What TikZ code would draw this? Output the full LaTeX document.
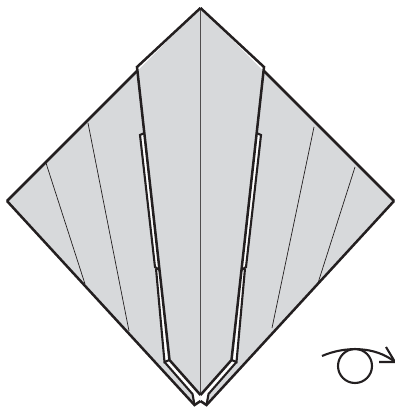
\documentclass[tikz,border=0pt]{standalone}
\usetikzlibrary{calc}
\definecolor{papergrey}{HTML}{D7D9DB}
\definecolor{inkblack}{HTML}{231F20}
\begin{document}
\begin{tikzpicture}[
    x=1pt, y=-1pt,
    edgeline/.style={draw=inkblack, line width=2.5pt, line join=miter},
    layerline/.style={draw=inkblack, line width=2.1pt, line join=miter},
    creaseline/.style={draw=inkblack, line width=0.7pt},
    centerline/.style={draw=inkblack!80, line width=0.9pt},
    gapfill/.style={fill=white, draw=none},
    turnline/.style={draw=inkblack, line width=2.1pt},
  ]
  \useasboundingbox (0,0) rectangle (395,412);
  % paper
  \fill[papergrey] (200.5,8) -- (393,201) -- (206.5,405) -- (200.5,401) -- (194.5,405) -- (7,201) -- cycle;
  % creases on the wings
  \draw[creaseline] (46,163) -- (85,284);
  \draw[creaseline] (88,123) -- (129,331);
  \draw[creaseline] (355,167) -- (318,283);
  \draw[creaseline] (314,127) -- (272,328);
  \draw[centerline] (200.5,8) -- (200.5,396);
  % left half, then the same again mirrored
  \foreach \side in {1,-1} {
    \begin{scope}[shift={(200.5,0)}, xscale=\side, shift={(-200.5,0)}]
      \coordinate (apex) at (200.5,8);
      \coordinate (tip) at (7,201);
      \coordinate (flap) at (137,67);
      \coordinate (knee) at (169.5,360);
      \coordinate (notch) at (200.5,395);
      \coordinate (foot) at (194.5,405);
      \coordinate (heel) at (192.5,394);
      \coordinate (lowknee) at (164.5,362);
      \coordinate (stepin) at (155,267);
      \coordinate (stepout) at (159.5,270);
      \coordinate (topin) at (140,135);
      \coordinate (topout) at (144.5,133);
      \fill[gapfill] (topout) -- (topin) -- (stepin) -- (stepout) -- cycle;
      \fill[gapfill] (stepout) -- (156,268.5) -- (lowknee) -- (knee) -- cycle;
      \fill[gapfill] (knee) -- (notch) -- (200.5,401) -- (foot) -- (heel) -- (lowknee) -- cycle;
      \draw[edgeline] (apex) -- (flap) -- (knee) -- (notch);
      \draw[edgeline] (tip) -- (foot) -- (200.5,401);
      \draw[edgeline] (tip) -- (137.5,70.5);
      \draw[layerline] (topout) -- (topin) -- (stepin) -- (stepout);
      \draw[layerline] (156,268.5) -- (lowknee) -- (knee);
      \draw[layerline] (lowknee) -- (heel) -- (foot);
    \end{scope}
  }
  % turn over sign
  \draw[turnline] (355,366) circle (17);
  \draw[turnline] (322,356) .. controls (345,346) and (375,346) .. (395,362);
  \draw[turnline] (386,347) -- (395,362) -- (379,362);
\end{tikzpicture}
\end{document}
